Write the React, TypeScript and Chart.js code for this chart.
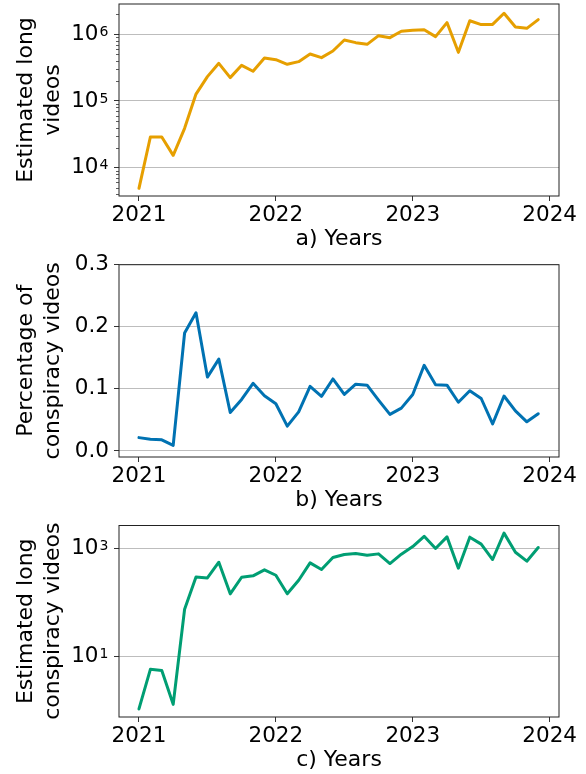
import React, { useEffect, useRef } from "react";
import { Chart, registerables } from "chart.js";

Chart.register(...registerables);

// ---------- data ----------
const months = [
  "2021-01", "2021-02", "2021-03", "2021-04", "2021-05", "2021-06",
  "2021-07", "2021-08", "2021-09", "2021-10", "2021-11", "2021-12",
  "2022-01", "2022-02", "2022-03", "2022-04", "2022-05", "2022-06",
  "2022-07", "2022-08", "2022-09", "2022-10", "2022-11", "2022-12",
  "2023-01", "2023-02", "2023-03", "2023-04", "2023-05", "2023-06",
  "2023-07", "2023-08", "2023-09", "2023-10", "2023-11", "2023-12",
];

const longVideos = [
  4900, 28800, 28800, 15300, 38900, 127000,
  232000, 367000, 224000, 343000, 279000, 442000,
  417000, 355000, 389000, 507000, 447000, 562000,
  822000, 750000, 708000, 955000, 891000, 1110000,
  1150000, 1170000, 923000, 1500000, 537000, 1600000,
  1400000, 1410000, 2070000, 1290000, 1230000, 1660000,
];

const conspiracyPct = [
  0.0215, 0.019, 0.018, 0.009, 0.19, 0.2226,
  0.119, 0.148, 0.062, 0.083, 0.109, 0.089,
  0.076, 0.04, 0.063, 0.104, 0.088, 0.116,
  0.091, 0.1075, 0.106, 0.082, 0.059, 0.069,
  0.091, 0.138, 0.1065, 0.106, 0.0785, 0.097,
  0.0845, 0.0435, 0.0885, 0.0645, 0.047, 0.06,
];

const longConspiracy = [
  1.06, 5.74, 5.43, 1.29, 74, 294,
  282, 550, 143, 290, 308, 398,
  316, 143, 255, 535, 403, 671,
  764, 794, 741, 785, 520, 774,
  1070, 1660, 986, 1620, 427, 1600,
  1190, 617, 1900, 843, 575, 1030,
];

const yearLabels = ["2021", "2022", "2023", "2024"];
const yearTickMonths = [0, 12, 24, 36];

const ticksLong = [1e4, 1e5, 1e6];
const ticksPct = [0, 0.1, 0.2, 0.3];
const ticksLongConsp = [10, 1000];

// ---------- helpers ----------
const FONT = "'DejaVu Sans', sans-serif";
const TICK_SIZE = 21.5;
const LABEL_SIZE = 22;
const pctLabel = (v: number) => v.toFixed(1);

type PanelProps = {
  top: number;
  height: number;
  padTop: number;
  values: number[];
  color: string;
  logY: boolean;
  min: number;
  max: number;
  yTicks: number[];
  yTitle: string[];
  xTitle: string;
  minor: boolean;
};

function Panel(p: PanelProps) {
  const ref = useRef<HTMLCanvasElement>(null);
  useEffect(() => {
    const yPad = p.logY ? 15.5 : 5;
    const frame = {
      id: "frame",
      afterDatasetsDraw(chart: any) {
        const { ctx, chartArea: a } = chart;
        ctx.save();
        ctx.strokeStyle = "#222";
        ctx.lineWidth = 1;
        ctx.strokeRect(a.left, a.top, a.right - a.left, a.bottom - a.top);
        if (p.minor) {
          const ys = chart.scales.y;
          ctx.strokeStyle = "#333";
          ctx.lineWidth = 0.8;
          for (let d = 3; d <= 6; d++) {
            for (let k = 2; k <= 9; k++) {
              const v = k * Math.pow(10, d);
              if (v < p.min || v > p.max) continue;
              const y = Math.round(ys.getPixelForValue(v)) + 0.5;
              ctx.beginPath();
              ctx.moveTo(a.left - 3, y);
              ctx.lineTo(a.left, y);
              ctx.stroke();
            }
          }
        }
        ctx.restore();
      },
      afterDraw(chart: any) {
        if (!p.logY) return;
        const { ctx, chartArea: a } = chart;
        const ys = chart.scales.y;
        ctx.save();
        ctx.fillStyle = "#000";
        ctx.font = `14px ${FONT}`;
        ctx.textAlign = "left";
        ctx.textBaseline = "alphabetic";
        for (const v of p.yTicks) {
          const y = ys.getPixelForValue(v);
          const e = Math.round(Math.log10(v));
          ctx.fillText(String(e), a.left - 5 - yPad + 1, y + 1.7);
        }
        ctx.restore();
      },
    };
    const chart = new Chart(ref.current!, {
      type: "line",
      data: {
        labels: months,
        datasets: [
          {
            data: p.values.map((v, i) => ({ x: i, y: v })),
            borderColor: p.color,
            borderWidth: 3,
            pointRadius: 0,
            fill: false,
            tension: 0,
            borderJoinStyle: "round",
            borderCapStyle: "round",
          },
        ],
      },
      options: {
        animation: false,
        responsive: true,
        maintainAspectRatio: false,
        layout: { padding: { top: p.padTop, right: 27, left: 0, bottom: 0 } },
        plugins: { legend: { display: false }, tooltip: { enabled: false } },
        scales: {
          x: {
            type: "linear",
            min: -1.75,
            max: 36.82,
            afterBuildTicks: (s: any) => {
              s.ticks = yearTickMonths.map((v) => ({ value: v }));
            },
            afterFit: (s: any) => {
              s.height = 57;
            },
            ticks: {
              autoSkip: false,
              maxRotation: 0,
              color: "#000",
              font: { family: FONT, size: TICK_SIZE },
              padding: 2,
              callback: (v: any) => yearLabels[yearTickMonths.indexOf(Number(v))],
            },
            grid: {
              display: true,
              drawOnChartArea: false,
              drawTicks: true,
              tickLength: 5,
              tickColor: "#333",
              tickWidth: 1,
            },
            border: { display: false },
            title: {
              display: true,
              text: p.xTitle,
              color: "#000",
              font: { family: FONT, size: LABEL_SIZE, lineHeight: 1.2 },
              padding: { top: 0, bottom: 0.5 },
            },
          },
          y: {
            type: p.logY ? "logarithmic" : "linear",
            min: p.min,
            max: p.max,
            afterBuildTicks: (s: any) => {
              s.ticks = p.yTicks.map((v) => ({ value: v }));
            },
            afterFit: (s: any) => {
              s.width = 119;
              s.paddingTop = 0;
              s.paddingBottom = 0;
            },
            ticks: {
              color: "#000",
              font: { family: FONT, size: TICK_SIZE },
              padding: yPad,
              callback: (v: any) => (p.logY ? "10" : pctLabel(Number(v))),
            },
            grid: {
              color: "#bdbdbd",
              lineWidth: 1,
              drawTicks: true,
              tickLength: 5,
              tickColor: "#333",
              tickWidth: 1,
            },
            border: { display: false },
            title: {
              display: true,
              text: p.yTitle,
              color: "#000",
              font: { family: FONT, size: LABEL_SIZE, lineHeight: 27 / 22 },
              padding: { top: 12.5, bottom: 0 },
            },
          },
        },
      } as any,
      plugins: [frame],
    });
    return () => chart.destroy();
  }, []);
  return (
    <div style={{ position: "absolute", left: 0, top: p.top, width: 586, height: p.height }}>
      <canvas ref={ref} />
    </div>
  );
}

export default function App() {
  return (
    <div style={{ position: "fixed", left: 0, top: 0, width: 586, height: 774, background: "#fff" }}>
      <Panel
        top={0}
        height={253}
        padTop={4}
        values={longVideos}
        color="#E69F00"
        logY={true}
        min={3758}
        max={2850000}
        yTicks={ticksLong}
        yTitle={["Estimated long", "videos"]}
        xTitle="a) Years"
        minor={true}
      />
      <Panel
        top={253}
        height={261}
        padTop={11.7}
        values={conspiracyPct}
        color="#0072B2"
        logY={false}
        min={-0.0097}
        max={0.3}
        yTicks={ticksPct}
        yTitle={["Percentage of", "conspiracy videos"]}
        xTitle="b) Years"
        minor={false}
      />
      <Panel
        top={514}
        height={260}
        padTop={11.5}
        values={longConspiracy}
        color="#009E73"
        logY={true}
        min={0.752}
        max={2630}
        yTicks={ticksLongConsp}
        yTitle={["Estimated long", "conspiracy videos"]}
        xTitle="c) Years"
        minor={false}
      />
    </div>
  );
}
